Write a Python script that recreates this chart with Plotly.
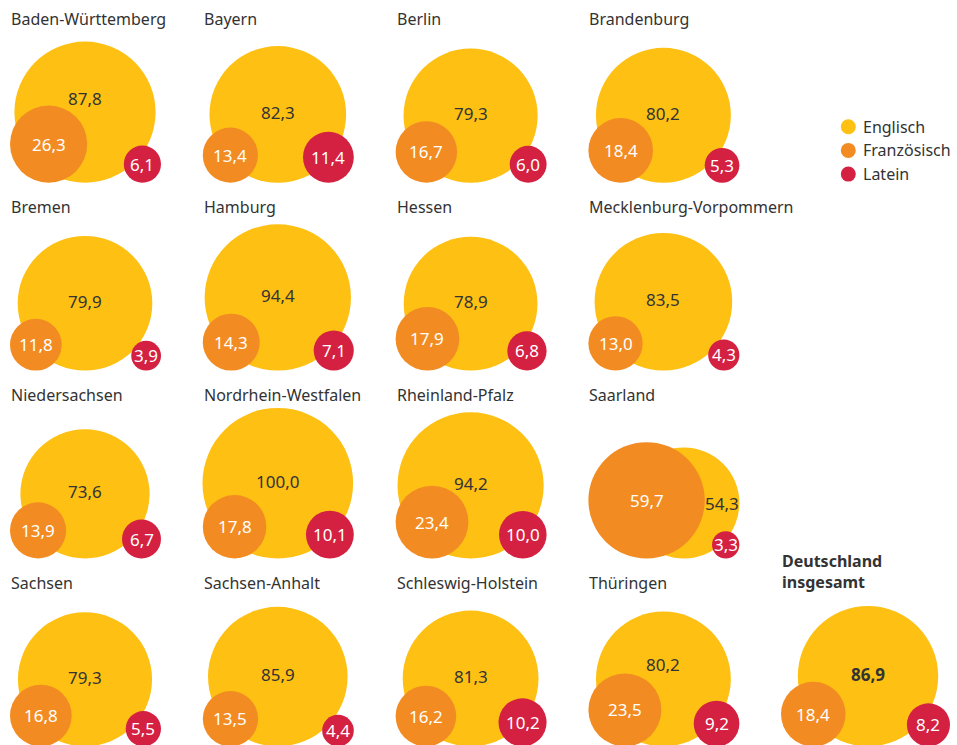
import math
import plotly.graph_objects as go

# ---------------- data ----------------
states = ["Baden-Württemberg", "Bayern", "Berlin", "Brandenburg",
          "Bremen", "Hamburg", "Hessen", "Mecklenburg-Vorpommern",
          "Niedersachsen", "Nordrhein-Westfalen", "Rheinland-Pfalz", "Saarland",
          "Sachsen", "Sachsen-Anhalt", "Schleswig-Holstein", "Thüringen",
          "Deutschland<br>insgesamt"]
englisch = [87.8, 82.3, 79.3, 80.2, 79.9, 94.4, 78.9, 83.5, 73.6, 100.0,
            94.2, 54.3, 79.3, 85.9, 81.3, 80.2, 86.9]
franzoesisch = [26.3, 13.4, 16.7, 18.4, 11.8, 14.3, 17.9, 13.0, 13.9, 17.8,
                23.4, 59.7, 16.8, 13.5, 16.2, 23.5, 18.4]
latein = [6.1, 11.4, 6.0, 5.3, 3.9, 7.1, 6.8, 4.3, 6.7, 10.1, 10.0, 3.3,
          5.5, 4.4, 10.2, 9.2, 8.2]
languages = ["Englisch", "Französisch", "Latein"]

# ---------------- style / layout ----------------
W, H = 957, 745
COLORS = ["#FDC013", "#F28C22", "#D42141"]
TXT = "#333333"
FONT = "Noto Sans"
K = 7.53  # px per sqrt(percent)
COL_X = [0, 192.8, 385.6, 578.4]
BASE0, ROW_DY = 182.7, 187.9
TITLE0, TITLE_DY = 18.5, 188.0
NUM_SIZE = 17


def fmt(v):
    return f"{v:.1f}".replace(".", ",")


def geometry(i):
    if i < 16:
        row, col = divmod(i, 4)
        off = COL_X[col]
        return dict(fl=off + 10, ecx=off + 85, lr=off + 161,
                    base=BASE0 + row * ROW_DY, tx=off + 10,
                    ty=TITLE0 + row * TITLE_DY)
    return dict(fl=781, ecx=868, lr=950, base=BASE0 + 3 * ROW_DY, tx=781,
                ty=TITLE0 + 3 * TITLE_DY)


ex, ey, es, fx, fy, fs, lx, ly, ls = ([] for _ in range(9))
annotations = []
for i, name in enumerate(states):
    g = geometry(i)
    e, f, l = englisch[i], franzoesisch[i], latein[i]
    rE, rF, rL = K * math.sqrt(e), K * math.sqrt(f), K * math.sqrt(l)
    cxE = g["ecx"] if f <= e else g["lr"] - rE
    cyE = g["base"] - rE
    cxF, cyF = g["fl"] + rF, g["base"] - rF
    cxL, cyL = g["lr"] - rL, g["base"] - rL
    ex.append(cxE); ey.append(cyE); es.append(2 * rE)
    fx.append(cxF); fy.append(cyF); fs.append(2 * rF)
    lx.append(cxL); ly.append(cyL); ls.append(2 * rL)

    bold = i == 16
    wrap = (lambda s: f"<b>{s}</b>") if bold else (lambda s: s)

    # English label position
    if f > e:
        lxE = (cxF + rF + cxE + rE) / 2
        lyE = cyE
    else:
        lxE, lyE = cxE, cyE - 2
        # move label up if it would collide with the French circle
        bx0, bx1, by0, by1 = lxE - 17, lxE + 17, lyE - 8, lyE + 8
        dx = max(bx0 - cxF, 0, cxF - bx1)
        dy = max(by0 - cyF, 0, cyF - by1)
        if math.hypot(dx, dy) < rF - 1:
            lyE -= 12
    annotations.append(dict(x=lxE, y=lyE, text=wrap(fmt(e)), showarrow=False,
                            font=dict(family=FONT, size=NUM_SIZE, color=TXT)))
    annotations.append(dict(x=cxF, y=cyF, text=fmt(f), showarrow=False,
                            font=dict(family=FONT, size=NUM_SIZE, color="white")))
    annotations.append(dict(x=cxL, y=cyL, text=fmt(l), showarrow=False,
                            font=dict(family=FONT, size=NUM_SIZE, color="white")))
    # title
    annotations.append(dict(x=g["tx"] - 1, y=g["ty"] + (-11.5 if bold else 0),
                            text=wrap(name), showarrow=False,
                            xanchor="left", yanchor="middle", align="left",
                            font=dict(family=FONT, size=16, color=TXT)))

fig = go.Figure()
for nm, xs, ys, ss, c in [(languages[0], ex, ey, es, COLORS[0]),
                          (languages[1], fx, fy, fs, COLORS[1]),
                          (languages[2], lx, ly, ls, COLORS[2])]:
    fig.add_trace(go.Scatter(x=xs, y=ys, mode="markers", name=nm,
                             marker=dict(size=ss, color=c, opacity=1,
                                         line=dict(width=0)),
                             hoverinfo="skip", showlegend=False,
                             cliponaxis=False))

# legend (manual)
LEG_X, LEG_Y0, LEG_DY = 848.3, 126.7, 23.7
fig.add_trace(go.Scatter(
    x=[LEG_X] * 3, y=[LEG_Y0 + k * LEG_DY for k in range(3)],
    mode="markers", marker=dict(size=15, color=COLORS, line=dict(width=0)),
    hoverinfo="skip", showlegend=False, cliponaxis=False))
for k, nm in enumerate(languages):
    annotations.append(dict(x=LEG_X + 13, y=LEG_Y0 + k * LEG_DY, text=nm,
                            showarrow=False, xanchor="left", yanchor="middle",
                            font=dict(family=FONT, size=16, color=TXT)))

fig.update_layout(
    width=W, height=H, margin=dict(l=0, r=0, t=0, b=0),
    paper_bgcolor="white", plot_bgcolor="white",
    xaxis=dict(range=[0, W], visible=False, fixedrange=True),
    yaxis=dict(range=[H, 0], visible=False, fixedrange=True),
    annotations=annotations, showlegend=False,
)
fig.write_html("out.html",
               config={"displayModeBar": False},
               post_script="document.body.style.margin='0';"
                           "document.body.style.overflow='hidden';")
